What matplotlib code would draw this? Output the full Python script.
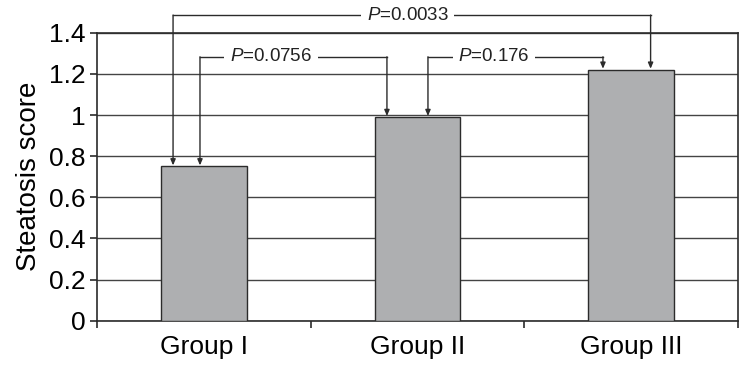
import matplotlib
matplotlib.use("Agg")
import matplotlib.pyplot as plt
import numpy as np

# data
groepen = ["Group I", "Group II", "Group III"]
score = [0.75, 0.99, 1.22]
vergelijkingen = [(0, 2), (0, 1), (1, 2)]
p_waarden = ["0.0033", "0.0756", "0.176"]

# kleuren
grijs = '#aeafb1'
donker = '#2b2b2b'

plt.rcParams['font.family'] = ['Liberation Sans', 'DejaVu Sans']
plt.rcParams['mathtext.fontset'] = 'custom'
plt.rcParams['mathtext.it'] = 'Liberation Sans:italic'
plt.rcParams['mathtext.rm'] = 'Liberation Sans'

fig = plt.figure(figsize=(7.49, 3.72), dpi=100)
ax = fig.add_axes([0.1295, 0.138, 0.8558, 0.774])

x = np.arange(len(groepen))
ax.bar(x, score, width=0.40, color=grijs, edgecolor=donker, linewidth=1.0, zorder=3)

ax.set_xlim(-0.5, 2.5)
ax.set_ylim(0, 1.4)
ax.set_yticks(np.arange(0, 1.41, 0.2))
ax.set_yticklabels(["0", "0.2", "0.4", "0.6", "0.8", "1", "1.2", "1.4"])
ax.yaxis.grid(True, color='#444444', linewidth=1.0, zorder=0)
ax.set_axisbelow(True)

# x-ticks op de grenzen, labels in het midden
ax.set_xticks([-0.5, 0.5, 1.5, 2.5])
ax.set_xticklabels([])
ax.set_xticks(x, minor=True)
ax.set_xticklabels(groepen, minor=True, fontsize=19)
ax.tick_params(axis='x', which='minor', length=0, pad=10)
ax.tick_params(axis='x', which='major', length=5, width=1.2, direction='out', color=donker)
ax.tick_params(axis='y', length=5, width=1.2, direction='out', labelsize=19, color=donker, pad=3)

for s in ax.spines.values():
    s.set_color(donker)
    s.set_linewidth(1.2)

ax.set_ylabel("Steatosis score", fontsize=20, labelpad=5)

# P-waarde haken
haak_hoogte = [1.486, 1.283, 1.283]
haak_x = [(-0.144, 2.091), (-0.018, 0.857), (1.049, 1.868)]
tekst_x = [0.955, 0.314, 1.358]
for (i, j), p, h, (xl, xr), tx in zip(vergelijkingen, p_waarden, haak_hoogte, haak_x, tekst_x):
    ax.plot([xl, xr], [h, h], color=donker, lw=1.0, clip_on=False, zorder=4)
    for xx, k in ((xl, i), (xr, j)):
        ax.annotate('', xy=(xx, score[k] + 0.005), xytext=(xx, h),
                    arrowprops=dict(arrowstyle='-|>,head_length=0.35,head_width=0.15',
                                    color=donker, lw=1.0, shrinkA=0, shrinkB=0),
                    annotation_clip=False, zorder=4)
    ax.text(tx, h, r"$P$=" + p, ha='center', va='center', fontsize=13.5,
            color='#222222', zorder=5,
            bbox=dict(facecolor='white', edgecolor='none', pad=4))

fig.savefig("out.png", dpi=100)
